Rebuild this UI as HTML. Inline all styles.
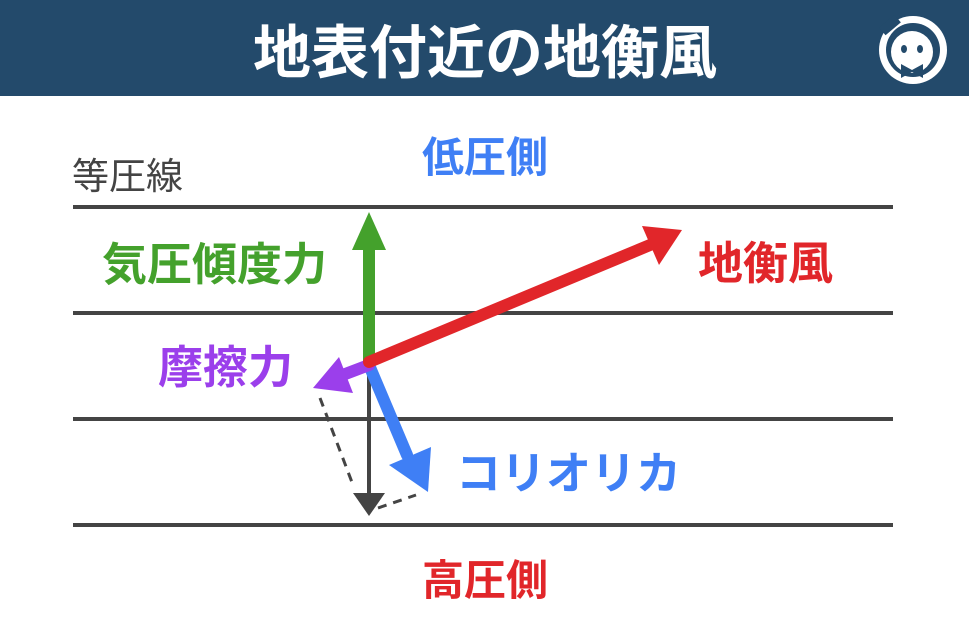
<!DOCTYPE html><html><head><meta charset="utf-8"><style>body{margin:0;width:969px;height:632px;overflow:hidden;background:#fff}</style></head><body>
<svg width="969" height="632" viewBox="0 0 969 632" xmlns="http://www.w3.org/2000/svg" font-family="Liberation Sans, Noto Sans CJK JP, sans-serif" font-weight="bold">
<rect x="0" y="0" width="969" height="96" fill="#234a6b"/>
<text x="485" y="73" font-size="58" fill="#fff" text-anchor="middle">地表付近の地衡風</text>
<circle cx="913" cy="50" r="34" fill="#fff"/>
<circle cx="913" cy="50" r="27" fill="#234a6b"/>
<circle cx="912" cy="52" r="21" fill="#fff"/>
<rect x="880" y="20" width="20" height="10" fill="#234a6b" transform="rotate(-40 890 25)"/>
<ellipse cx="904" cy="49" rx="3" ry="4" fill="#234a6b"/><ellipse cx="920" cy="49" rx="3" ry="4" fill="#234a6b"/>
<path d="M901 64 L912 70 L923 64 L923 78 L912 72 L901 78Z" fill="#234a6b"/>
<g stroke="#444" stroke-width="4"><line x1="73" y1="207" x2="893" y2="207"/><line x1="73" y1="313" x2="893" y2="313"/><line x1="73" y1="419" x2="893" y2="419"/><line x1="73" y1="525" x2="893" y2="525"/></g>
<text x="72" y="189" font-size="37" fill="#444" font-weight="normal">等圧線</text>
<text x="485" y="172" font-size="42" fill="#3f7ff5" text-anchor="middle">低圧側</text>
<text x="485" y="595" font-size="42" fill="#e1262a" text-anchor="middle">高圧側</text>
<text x="102" y="280" font-size="45" fill="#44a12c">気圧傾度力</text>
<text x="698" y="279" font-size="45" fill="#e1262a">地衡風</text>
<text x="158" y="383" font-size="45" fill="#9b3feb">摩擦力</text>
<text x="456" y="489" font-size="45" fill="#3f7ff5">コリオリカ</text>
<g stroke="#444" stroke-width="3" stroke-dasharray="9,7" fill="none"><line x1="320" y1="398" x2="353" y2="485"/><line x1="378" y1="508" x2="416" y2="495"/></g>
<line x1="369" y1="365" x2="369" y2="495" stroke="#444" stroke-width="4"/>
<polygon points="353,493 385,493 369,516" fill="#444"/>
<line x1="369" y1="362" x2="369" y2="245" stroke="#44a12c" stroke-width="12"/>
<polygon points="352,250 386,250 369,212" fill="#44a12c"/>
<line x1="369" y1="365" x2="407" y2="455" stroke="#3f7ff5" stroke-width="12" stroke-linecap="round"/>
<polygon points="389,465 431,447 428,492" fill="#3f7ff5"/>
<line x1="369" y1="365" x2="340" y2="376" stroke="#9b3feb" stroke-width="12" stroke-linecap="round"/>
<polygon points="339,357 353,393 313,388" fill="#9b3feb"/>
<line x1="369" y1="362" x2="650" y2="245" stroke="#e1262a" stroke-width="12" stroke-linecap="round"/>
<polygon points="642,226 659,265 682,230" fill="#e1262a"/>
</svg></body></html>
